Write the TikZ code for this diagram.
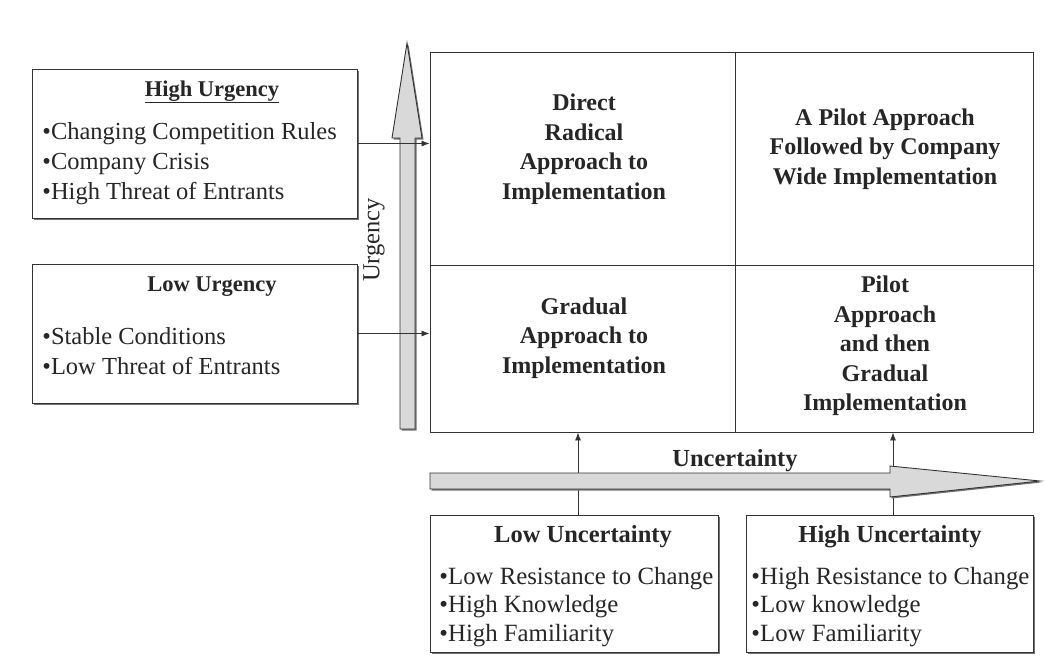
\documentclass[tikz,border=0pt]{standalone}
\usepackage{fontspec}
\setmainfont{Liberation Serif}
\usetikzlibrary{arrows.meta,shadows}
\begin{document}
\begin{tikzpicture}[x=1pt,y=-1pt,
  line width=0.9pt,
  ink/.style={draw=black!80},
  infobox/.style={ink, fill=white, rectangle, inner sep=0pt,
    drop shadow={shadow xshift=1.5pt, shadow yshift=-1.5pt, fill=black!55, opacity=1}},
  bodytext/.style={font=\fontsize{24.5}{30}\selectfont, text=black!85, inner sep=0pt},
  widetext/.style={font=\fontsize{24.8}{28.7}\selectfont, text=black!85, inner sep=0pt},
  headtext/.style={font=\bfseries\fontsize{22.5}{26}\selectfont, text=black!85},
  bighead/.style={font=\bfseries\fontsize{24.5}{28}\selectfont, text=black!85},
  cell/.style={font=\bfseries\fontsize{24}{29.5}\selectfont, text=black!85, align=center},
  bigarrow/.style={ink, fill=black!15,
    drop shadow={shadow xshift=1.5pt, shadow yshift=-1.5pt, fill=black!55, opacity=1}},
  link/.style={draw=black!80, line width=0.8pt, -{Latex[length=8pt,width=6pt]}}
]
\useasboundingbox (0,0) rectangle (1046,657);

% urgency boxes on the left
\node[infobox, minimum width=325pt, minimum height=149pt] (hu) at (194.5,143.5) {};
\node[infobox, minimum width=325pt, minimum height=139pt] (lu) at (194.5,333.5) {};

\node[headtext] (hut) at (212,92) {\underline{High Urgency}};
\node[bodytext, anchor=west, align=left] (hul) at (42,164)
  {•Changing Competition Rules\\•Company Crisis\\•High Threat of Entrants};
\node[headtext] (lut) at (212,287) {Low Urgency};
\node[bodytext, anchor=west, align=left] (lul) at (42,351)
  {•Stable Conditions\\•Low Threat of Entrants};

% urgency axis
\path[bigarrow] (400,429) -- (400,138) -- (392,138) -- (407,43) -- (422,138)
  -- (415,138) -- (415,429) -- cycle;
\node[font=\fontsize{24.5}{26}\selectfont, text=black!85, rotate=90] (uax) at (374,240) {Urgency};

% decision grid
\node[ink, fill=white, rectangle, minimum width=603pt, minimum height=380pt,
  inner sep=0pt] (grid) at (731.5,242) {};
\draw[ink] (735,52) -- (735,432);
\draw[ink] (430,265) -- (1033,265);

\node[cell] (q1) at (584,149) {Direct\\Radical\\Approach to\\Implementation};
\node[cell] (q2) at (885,149) {A Pilot Approach\\Followed by Company\\Wide Implementation};
\node[cell] (q3) at (584,338) {Gradual\\Approach to\\Implementation};
\node[cell] (q4) at (885,346) {Pilot\\Approach\\and then\\Gradual\\Implementation};

% uncertainty boxes at the bottom
\node[infobox, minimum width=288pt, minimum height=137pt] (lc) at (574,583.5) {};
\node[infobox, minimum width=287pt, minimum height=137pt] (hc) at (889.5,583.5) {};

\node[bighead] (lct) at (583,537) {Low Uncertainty};
\node[widetext, anchor=west, align=left] (lcl) at (439,607)
  {•Low Resistance to Change\\•High Knowledge\\•High Familiarity};
\node[bighead] (hct) at (890,537) {High Uncertainty};
\node[widetext, anchor=west, align=left] (hcl) at (751,607)
  {•High Resistance to Change\\•Low knowledge\\•Low Familiarity};

% connectors into the grid
\draw[link] (hu.east) -- (hu.east -| grid.west);
\draw[link] (lu.east) -- (lu.east -| grid.west);
\draw[link] ([xshift=4pt]lc.north) -- ([xshift=4pt]lc.north |- grid.south);
\draw[link] ([xshift=3.5pt]hc.north) -- ([xshift=3.5pt]hc.north |- grid.south);

% uncertainty axis
\path[bigarrow] (430,473) -- (890,473) -- (890,466) -- (1040,481) -- (890,497)
  -- (890,489) -- (430,489) -- cycle;
\node[bighead] (uncax) at (735,461) {Uncertainty};
\end{tikzpicture}
\end{document}
